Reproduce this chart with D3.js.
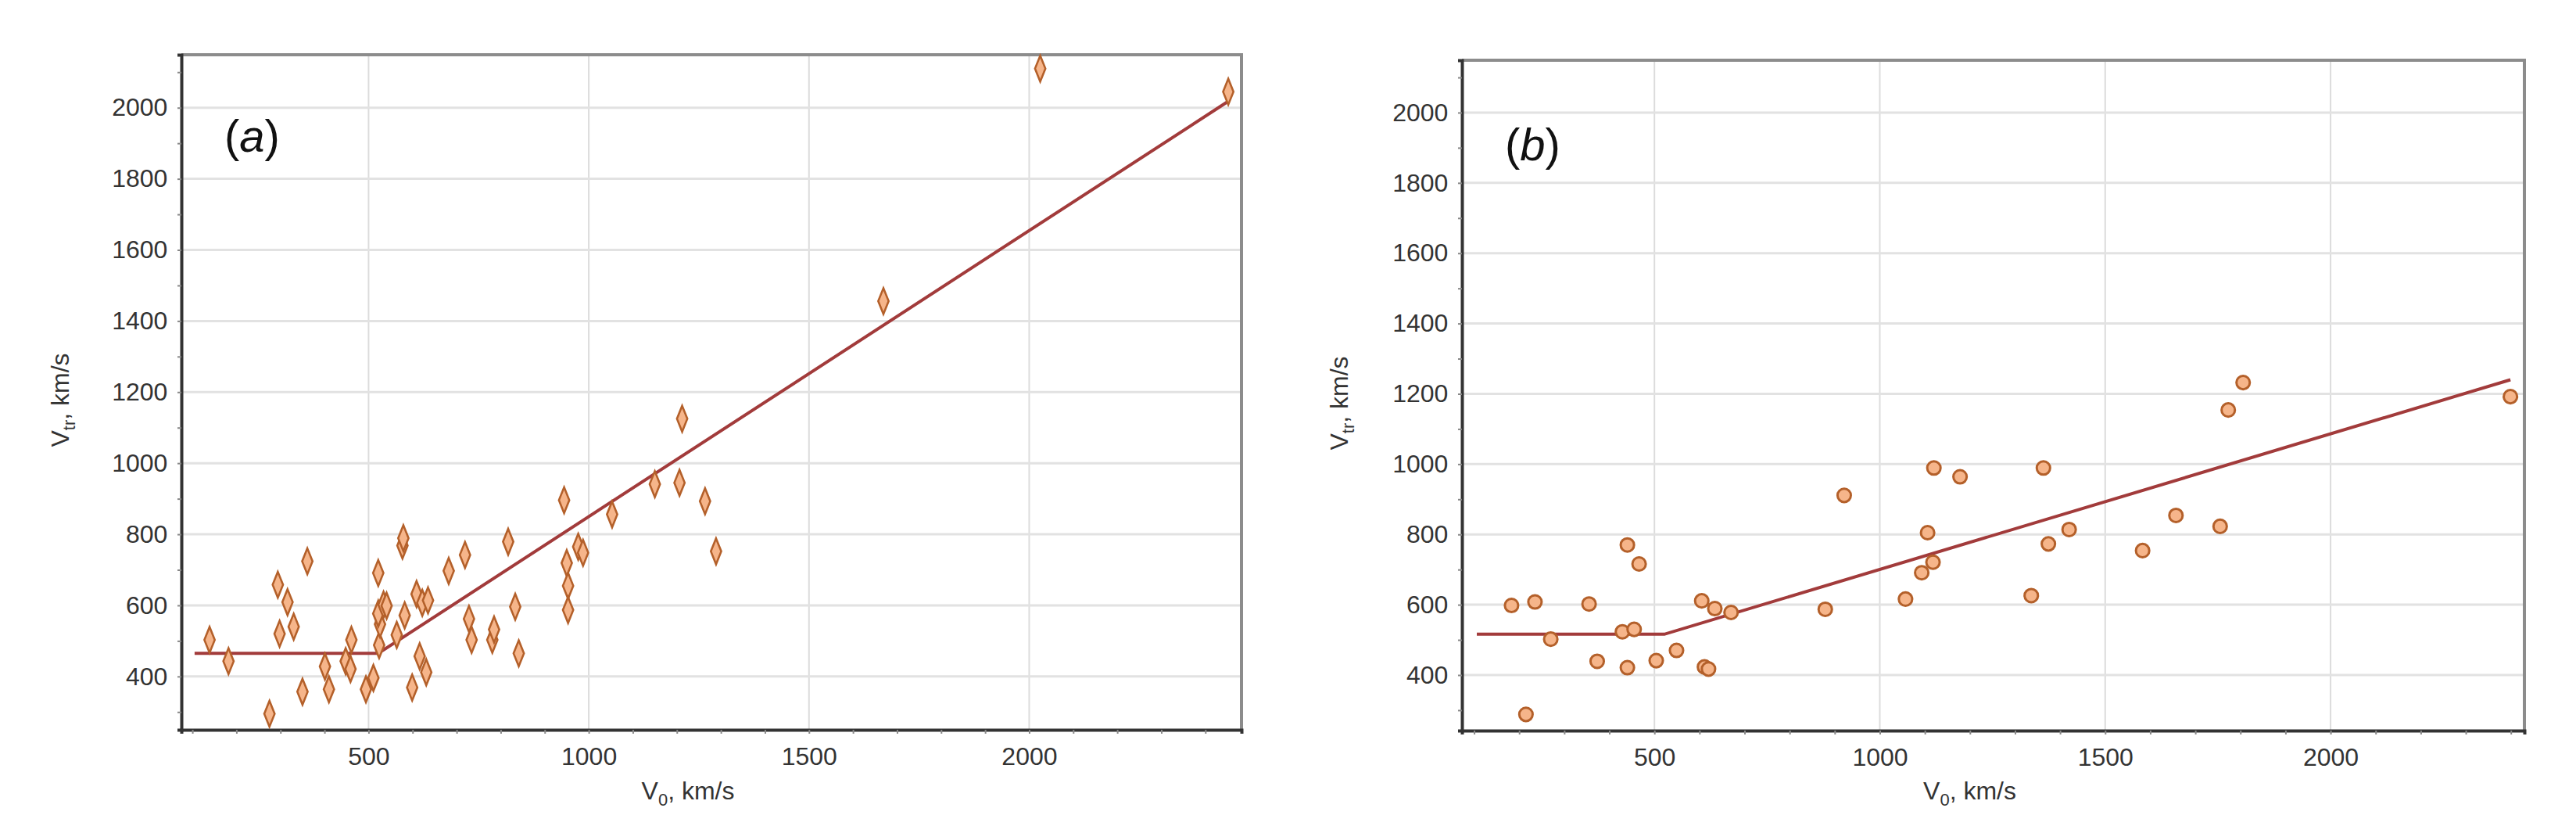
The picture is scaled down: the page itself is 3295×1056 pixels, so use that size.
<!DOCTYPE html>
<html>
<head>
<meta charset="utf-8">
<script src="https://cdn.jsdelivr.net/npm/d3@7"></script>
<style>
  body { margin: 0; background: #fff; }
  text { font-family: "Liberation Sans", Arial, sans-serif; }
</style>
</head>
<body>
<svg id="chart" width="3295" height="1056"></svg>
<script>
// panel (a) points, diamonds
var aV0 = [139, 182, 275, 294, 298, 316, 330, 350, 361, 401, 410, 448, 459, 461, 494, 511, 522, 524, 526, 522, 534, 541, 564, 577, 579, 582, 599, 609, 616, 622, 631, 635, 682, 719, 728, 734, 781, 785, 817, 833, 841, 944, 950, 953, 953, 976, 987, 1053, 1150, 1206, 1212, 1264, 1289, 1669, 2025, 2452];
var aVtr = [503, 443, 295, 658, 520, 609, 540, 357, 724, 428, 364, 443, 421, 503, 364, 396, 691, 488, 547, 577, 602, 599, 517, 768, 789, 572, 369, 632, 457, 607, 412, 614, 697, 742, 562, 503, 503, 532, 779, 596, 465, 896, 719, 655, 587, 765, 748, 856, 941, 945, 1125, 893, 752, 1456, 2110, 2045];
var aFitX = [105, 522, 2452];
var aFitY = [465, 465, 2018];

// panel (b) points, circles
var bV0 = [183, 215, 235, 270, 355, 373, 429, 440, 440, 455, 466, 504, 549, 605, 611, 620, 634, 670, 879, 921, 1057, 1093, 1106, 1118, 1120, 1178, 1336, 1363, 1374, 1420, 1583, 1657, 1755, 1773, 1806, 2399];
var bVtr = [598, 288, 608, 502, 602, 439, 523, 421, 770, 530, 716, 441, 470, 611, 423, 417, 589, 578, 587, 911, 616, 691, 805, 721, 989, 964, 626, 989, 773, 814, 754, 854, 823, 1154, 1232, 1192];
var bFitX = [106, 522, 2399];
var bFitY = [516, 516, 1240];

var xTicks = [500, 1000, 1500, 2000];
var yTicks = [400, 600, 800, 1000, 1200, 1400, 1600, 1800, 2000];

var svg = d3.select('#chart');

var panels = [
  { label: 'a', shape: 'diamond', xs: aV0, ys: aVtr, fx: aFitX, fy: aFitY,
    left: 232, right: 1588, top: 70, bottom: 933, xd: [75, 2482], yd: [250, 2149], ytitleX: 88 },
  { label: 'b', shape: 'circle', xs: bV0, ys: bVtr, fx: bFitX, fy: bFitY,
    left: 1870, right: 3229, top: 77, bottom: 934, xd: [73, 2430], yd: [242, 2149], ytitleX: 1724 }
];

panels.forEach(function (p) {
  var x = d3.scaleLinear().domain(p.xd).range([p.left, p.right]);
  var y = d3.scaleLinear().domain(p.yd).range([p.bottom, p.top]);
  var g = svg.append('g');

  // grid
  g.selectAll('.gx').data(xTicks).enter().append('line')
    .attr('x1', d => x(d)).attr('x2', d => x(d))
    .attr('y1', p.top).attr('y2', p.bottom)
    .attr('stroke', '#dcdcdc').attr('stroke-width', 2);
  g.selectAll('.gy').data(yTicks).enter().append('line')
    .attr('x1', p.left).attr('x2', p.right)
    .attr('y1', d => y(d)).attr('y2', d => y(d))
    .attr('stroke', '#e2e2e2').attr('stroke-width', 3);

  // frame: grey top/right
  g.append('path')
    .attr('d', 'M' + p.left + ',' + p.top + 'H' + p.right + 'V' + p.bottom)
    .attr('fill', 'none').attr('stroke', '#8c8c8c').attr('stroke-width', 4);

  // axes
  var xAxis = d3.axisBottom(x).tickValues(d3.range(100, p.xd[1], 100))
    .tickSize(5).tickFormat(d => xTicks.indexOf(d) >= 0 ? d : '');
  var gx = g.append('g').attr('transform', 'translate(0,' + p.bottom + ')').call(xAxis);
  var yAxis = d3.axisLeft(y).tickValues(d3.range(300, p.yd[1], 100))
    .tickSize(5).tickFormat(d => yTicks.indexOf(d) >= 0 ? d : '');
  var gy = g.append('g').attr('transform', 'translate(' + p.left + ',0)').call(yAxis);
  [gx, gy].forEach(function (a) {
    a.select('.domain').attr('stroke', '#333').attr('stroke-width', 4);
    a.selectAll('.tick line').attr('stroke', '#888').attr('stroke-width', 2);
    a.selectAll('.tick text').attr('font-size', 32).attr('fill', '#333');
  });
  gx.selectAll('.tick text').attr('dy', '1.15em');
  gy.selectAll('.tick text').attr('dx', '-0.3em');

  // fit line
  var line = d3.line().x(d => x(d[0])).y(d => y(d[1]));
  g.append('path').datum(d3.zip(p.fx, p.fy)).attr('d', line)
    .attr('fill', 'none').attr('stroke', '#a23b3b').attr('stroke-width', 4);

  // points
  var sym = d3.symbol().type(p.shape === 'diamond' ? d3.symbolDiamond : d3.symbolCircle)
    .size(p.shape === 'diamond' ? 240 : 230);
  g.selectAll('.pt').data(d3.zip(p.xs, p.ys)).enter().append('path')
    .attr('d', sym)
    .attr('transform', d => 'translate(' + x(d[0]) + ',' + y(d[1]) + ')' + (p.shape === 'diamond' ? ' scale(0.8,1.15)' : ''))
    .attr('fill', '#f6b58a').attr('stroke', '#b4602a').attr('stroke-width', 3);

  // panel label
  var lbl = g.append('text').attr('x', p.left + 55).attr('y', p.top + 128 + (p.label === 'b' ? 0 : -4))
    .attr('font-size', 58).attr('fill', '#111');
  lbl.append('tspan').text('(');
  lbl.append('tspan').attr('font-style', 'italic').text(p.label);
  lbl.append('tspan').text(')');

  // axis titles
  var xt = g.append('text').attr('x', (p.left + p.right) / 2 - 30).attr('y', 1022)
    .attr('text-anchor', 'middle').attr('font-size', 32).attr('fill', '#333');
  xt.append('tspan').text('V');
  xt.append('tspan').attr('font-size', 22).attr('dy', 8).text('0');
  xt.append('tspan').attr('dy', -8).text(', km/s');

  var yt = g.append('text')
    .attr('transform', 'translate(' + p.ytitleX + ',' + ((p.top + p.bottom) / 2 + 10) + ') rotate(-90)')
    .attr('text-anchor', 'middle').attr('font-size', 32).attr('fill', '#333');
  yt.append('tspan').text('V');
  yt.append('tspan').attr('font-size', 22).attr('dy', 8).text('tr');
  yt.append('tspan').attr('dy', -8).text(', km/s');
});
</script>
</body>
</html>
